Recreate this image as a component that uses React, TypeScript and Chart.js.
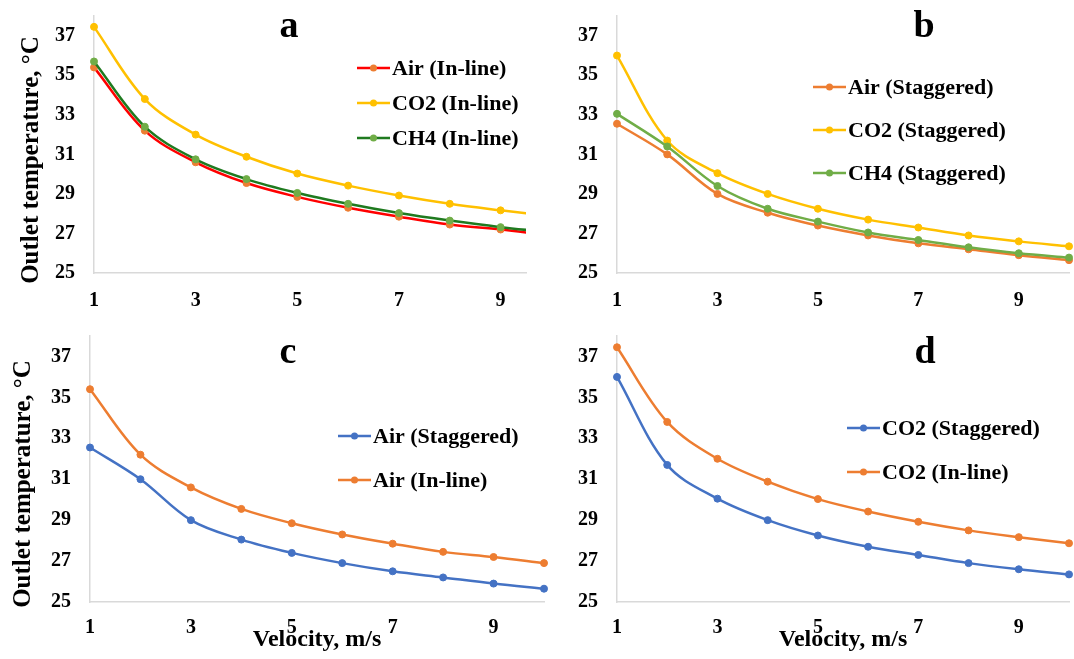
import React, { useEffect, useRef } from 'react';
import { Chart, registerables } from 'chart.js';

Chart.register(...registerables);

// ---------- data ----------
const velocity = [1, 2, 3, 4, 5, 6, 7, 8, 9, 10];
const airInline = [35.4, 32.2, 30.6, 29.55, 28.85, 28.3, 27.85, 27.45, 27.2, 26.9];
const co2Inline = [37.45, 33.8, 32.0, 30.88, 30.03, 29.42, 28.92, 28.5, 28.17, 27.87];
const ch4Inline = [35.7, 32.4, 30.75, 29.75, 29.05, 28.5, 28.03, 27.65, 27.32, 27.05];
const airStaggered = [32.55, 31.0, 29.0, 28.05, 27.4, 26.9, 26.5, 26.2, 25.9, 25.65];
const co2Staggered = [36.0, 31.7, 30.05, 29.0, 28.25, 27.7, 27.3, 26.9, 26.6, 26.35];
const ch4Staggered = [33.05, 31.4, 29.4, 28.25, 27.6, 27.05, 26.67, 26.3, 26.0, 25.78];
const xTickValues = [1, 3, 5, 7, 9];
const yTickValues = [25, 27, 29, 31, 33, 35, 37];
const panelLetters = ['a', 'b', 'c', 'd'];
const yAxisTitle = 'Outlet temperature, °C';
const xAxisTitle = 'Velocity, m/s';

const FONT = '"Liberation Serif", "Times New Roman", serif';

type Series = { label: string; values: number[]; line: string; point: string };
type Panel = {
  letter: string;
  left: number; top: number; width: number; height: number;
  padTop: number; padRight: number; yWidth: number; xHeight: number;
  xMax: number; clip: any;
  yTitle: boolean; yTitleX: number; yTitleY: number; xTitle: boolean; xTickPad: number;
  letterX: number; letterY: number; legendX: number; legendY: number[];
  series: Series[];
};

const panels: Panel[] = [
  {
    letter: panelLetters[0], left: 0, top: 0, width: 540, height: 320,
    padTop: 16, padRight: 14, yWidth: 94, xHeight: 47, xMax: 9.5,
    clip: { left: 8, top: 8, right: 0, bottom: 8 },
    yTitle: true, yTitleX: 32, yTitleY: 160, xTitle: false, xTickPad: 16,
    letterX: 289, letterY: 37, legendX: 357, legendY: [68, 103, 138],
    series: [
      { label: 'Air (In-line)', values: airInline, line: '#FF0000', point: '#ED7D31' },
      { label: 'CO2 (In-line)', values: co2Inline, line: '#FFC000', point: '#FFC000' },
      { label: 'CH4 (In-line)', values: ch4Inline, line: '#1F7A1F', point: '#70AD47' },
    ],
  },
  {
    letter: panelLetters[1], left: 540, top: 0, width: 534, height: 320,
    padTop: 16, padRight: 0, yWidth: 77, xHeight: 47, xMax: 10,
    clip: false,
    yTitle: false, yTitleX: 0, yTitleY: 0, xTitle: false, xTickPad: 16,
    letterX: 384, letterY: 37, legendX: 273, legendY: [87, 130, 173],
    series: [
      { label: 'Air (Staggered)', values: airStaggered, line: '#ED7D31', point: '#ED7D31' },
      { label: 'CO2 (Staggered)', values: co2Staggered, line: '#FFC000', point: '#FFC000' },
      { label: 'CH4 (Staggered)', values: ch4Staggered, line: '#70AD47', point: '#70AD47' },
    ],
  },
  {
    letter: panelLetters[2], left: 0, top: 320, width: 550, height: 339,
    padTop: 16, padRight: 6, yWidth: 90, xHeight: 57, xMax: 10,
    clip: false,
    yTitle: true, yTitleX: 24, yTitleY: 164, xTitle: true, xTickPad: 14,
    letterX: 288, letterY: 43, legendX: 338, legendY: [116, 160],
    series: [
      { label: 'Air (Staggered)', values: airStaggered, line: '#4472C4', point: '#4472C4' },
      { label: 'Air (In-line)', values: airInline, line: '#ED7D31', point: '#ED7D31' },
    ],
  },
  {
    letter: panelLetters[3], left: 540, top: 320, width: 534, height: 339,
    padTop: 16, padRight: 0, yWidth: 77, xHeight: 57, xMax: 10,
    clip: false,
    yTitle: false, yTitleX: 0, yTitleY: 0, xTitle: true, xTickPad: 14,
    letterX: 385, letterY: 43, legendX: 307, legendY: [108, 152],
    series: [
      { label: 'CO2 (Staggered)', values: co2Staggered, line: '#4472C4', point: '#4472C4' },
      { label: 'CO2 (In-line)', values: co2Inline, line: '#ED7D31', point: '#ED7D31' },
    ],
  },
];

const decorPlugin = {
  id: 'panelDecor',
  afterDraw(chart: any, _args: any, opts: any) {
    const ctx = chart.ctx as CanvasRenderingContext2D;
    ctx.save();
    ctx.fillStyle = '#000';
    // panel letter
    ctx.font = `bold 38px ${FONT}`;
    ctx.textAlign = 'center';
    ctx.textBaseline = 'alphabetic';
    ctx.fillText(opts.letter, opts.letterX, opts.letterY);
    // y axis title
    if (opts.yTitle) {
      ctx.save();
      ctx.translate(opts.yTitleX, opts.yTitleY);
      ctx.rotate(-Math.PI / 2);
      ctx.font = `bold 25px ${FONT}`;
      ctx.textAlign = 'center';
      ctx.textBaseline = 'middle';
      ctx.fillText(opts.yTitleText, 0, 0);
      ctx.restore();
    }
    // legend
    chart.data.datasets.forEach((ds: any, i: number) => {
      const y = opts.legendY[i];
      const x0 = opts.legendX;
      ctx.strokeStyle = ds.borderColor;
      ctx.lineWidth = 2.5;
      ctx.beginPath();
      ctx.moveTo(x0, y);
      ctx.lineTo(x0 + 33, y);
      ctx.stroke();
      ctx.fillStyle = ds.pointBackgroundColor;
      ctx.beginPath();
      ctx.arc(x0 + 16.5, y, 3.5, 0, Math.PI * 2);
      ctx.fill();
      ctx.fillStyle = '#000';
      ctx.font = `bold 22px ${FONT}`;
      ctx.textAlign = 'left';
      ctx.textBaseline = 'middle';
      ctx.fillText(ds.label, x0 + 35, y + 1);
    });
    ctx.restore();
  },
};

function PanelChart({ spec }: { spec: Panel }) {
  const ref = useRef<HTMLCanvasElement>(null);
  useEffect(() => {
    const canvas = ref.current;
    if (!canvas) return;
    const n = spec.series.length;
    const datasets = spec.series.map((s, i) => ({
      label: s.label,
      data: velocity.map((v, j) => ({ x: v, y: s.values[j] })),
      borderColor: s.line,
      backgroundColor: s.point,
      pointBackgroundColor: s.point,
      pointBorderColor: s.point,
      pointRadius: 3.5,
      pointBorderWidth: 1,
      borderWidth: 2.5,
      tension: 0.35,
      fill: false,
      clip: spec.clip,
      order: n - i,
    }));
    const tickFont = { family: FONT, size: 20, weight: 'bold' as const };
    const chart = new Chart(canvas, {
      type: 'line',
      data: { datasets },
      options: {
        responsive: false,
        animation: false,
        devicePixelRatio: 1,
        events: [],
        layout: { padding: { top: spec.padTop, right: spec.padRight, left: 0, bottom: 0 } },
        plugins: {
          legend: { display: false },
          tooltip: { enabled: false },
          panelDecor: {
            letter: spec.letter, letterX: spec.letterX, letterY: spec.letterY,
            legendX: spec.legendX, legendY: spec.legendY,
            yTitle: spec.yTitle, yTitleText: yAxisTitle, yTitleX: spec.yTitleX, yTitleY: spec.yTitleY,
          },
        } as any,
        scales: {
          x: {
            type: 'linear',
            min: 1,
            max: spec.xMax,
            grid: { display: false, drawTicks: false },
            border: { display: true, color: '#D9D9D9', width: 1.5 },
            ticks: { font: tickFont, color: '#000', padding: spec.xTickPad, maxRotation: 0, autoSkip: false },
            afterBuildTicks: (s: any) => { s.ticks = xTickValues.map((value) => ({ value })); },
            afterFit: (s: any) => { s.height = spec.xHeight; s.paddingLeft = 0; s.paddingRight = 0; },
            title: {
              display: spec.xTitle, text: xAxisTitle, color: '#000',
              font: { family: FONT, size: 24, weight: 'bold' }, padding: { top: 0, bottom: 5 },
            },
          },
          y: {
            type: 'linear',
            min: 25,
            max: 38,
            grid: { display: false, drawTicks: false },
            border: { display: true, color: '#D9D9D9', width: 1.5 },
            ticks: { font: tickFont, color: '#000', padding: 19 },
            afterBuildTicks: (s: any) => { s.ticks = yTickValues.map((value) => ({ value })); },
            afterFit: (s: any) => { s.width = spec.yWidth; s.paddingTop = 0; s.paddingBottom = 0; },
            title: { display: false },
          },
        },
      },
      plugins: [decorPlugin],
    } as any);
    return () => chart.destroy();
  }, [spec]);
  return (
    <canvas
      ref={ref}
      width={spec.width}
      height={spec.height}
      style={{ position: 'absolute', left: spec.left, top: spec.top, width: spec.width, height: spec.height }}
    />
  );
}

export default function App() {
  return (
    <div style={{ position: 'fixed', left: 0, top: 0, width: 1074, height: 659, background: '#fff', overflow: 'hidden' }}>
      {panels.map((p) => (
        <PanelChart key={p.letter} spec={p} />
      ))}
    </div>
  );
}
